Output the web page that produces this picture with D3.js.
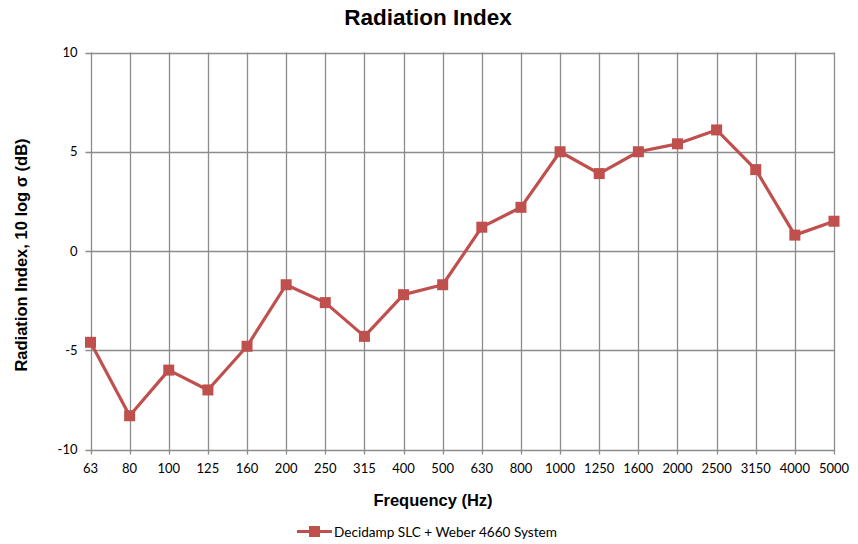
<!DOCTYPE html>
<html><head><meta charset="utf-8">
<script src="https://cdn.jsdelivr.net/npm/d3@7"></script>
<style>body{margin:0;background:#fff}</style>
</head><body>
<svg id="c" width="858" height="544"></svg>
<script>
const categories = ["63","80","100","125","160","200","250","315","400","500","630","800","1000","1250","1600","2000","2500","3150","4000","5000"];
const values = [-4.6,-8.3,-6.0,-7.0,-4.8,-1.7,-2.6,-4.3,-2.2,-1.7,1.2,2.2,5.0,3.9,5.0,5.4,6.1,4.1,0.8,1.5];
const yTicks = [-10,-5,0,5,10];
const seriesName = "Decidamp SLC + Weber 4660 System";

const svg = d3.select("#c");
const L = 90.5, R = 834, T = 52.5, B = 449.5;
const x = d3.scalePoint().domain(categories).range([L, R]);
const y = d3.scaleLinear().domain([-10, 10]).range([B, T]);
const grid = "#8c8c8c";
const tickFont = "Lato, 'Open Sans', sans-serif";
const boldFont = "'Liberation Sans', Arial, sans-serif";

// grid
svg.append("g").selectAll("line.h").data(yTicks).join("line")
  .attr("x1", L - 5).attr("x2", R).attr("y1", d => Math.round(y(d)) + 0.5).attr("y2", d => Math.round(y(d)) + 0.5)
  .attr("stroke", grid).attr("stroke-width", 1.3);
svg.append("g").selectAll("line.v").data(categories).join("line")
  .attr("x1", d => Math.round(x(d)) + 0.5).attr("x2", d => Math.round(x(d)) + 0.5)
  .attr("y1", T).attr("y2", B + 5)
  .attr("stroke", grid).attr("stroke-width", 1.3);

// tick labels
svg.append("g").selectAll("text").data(yTicks).join("text")
  .attr("x", L - 13).attr("y", d => y(d)).attr("dy", "0.35em")
  .attr("text-anchor", "end").attr("font-family", tickFont).attr("font-size", 13).attr("fill", "#000")
  .text(d => d);
svg.append("g").selectAll("text").data(categories).join("text")
  .attr("x", d => x(d)).attr("y", B + 23.5)
  .attr("text-anchor", "middle").attr("font-family", tickFont).attr("font-size", 13).attr("fill", "#000")
  .text(d => d);

// line
const col = "#c0504d";
svg.append("path").datum(values)
  .attr("fill", "none").attr("stroke", col).attr("stroke-width", 3.2).attr("stroke-linejoin", "round")
  .attr("d", d3.line().x((d, i) => x(categories[i])).y(d => y(d)));
const s = 11;
svg.append("g").selectAll("rect").data(values).join("rect")
  .attr("x", (d, i) => x(categories[i]) - s / 2).attr("y", d => y(d) - s / 2)
  .attr("width", s).attr("height", s).attr("fill", col);

// titles
svg.append("text").attr("x", 428).attr("y", 25).attr("text-anchor", "middle")
  .attr("font-family", boldFont).attr("font-weight", "bold").attr("font-size", 22.5)
  .text("Radiation Index");
svg.append("text").attr("x", 433).attr("y", 506).attr("text-anchor", "middle")
  .attr("font-family", boldFont).attr("font-weight", "bold").attr("font-size", 16.5)
  .text("Frequency (Hz)");
svg.append("text").attr("transform", "translate(27,255) rotate(-90)").attr("text-anchor", "middle")
  .attr("font-family", boldFont).attr("font-weight", "bold").attr("font-size", 16.5)
  .text("Radiation Index, 10 log σ (dB)");

// legend
const lg = svg.append("g");
lg.append("line").attr("x1", 297).attr("x2", 332).attr("y1", 531.5).attr("y2", 531.5).attr("stroke", col).attr("stroke-width", 3.2);
lg.append("rect").attr("x", 309).attr("y", 526).attr("width", 11).attr("height", 11).attr("fill", col);
lg.append("text").attr("x", 334).attr("y", 537)
  .attr("font-family", tickFont).attr("font-size", 13.6).text(seriesName);
</script>
</body></html>
